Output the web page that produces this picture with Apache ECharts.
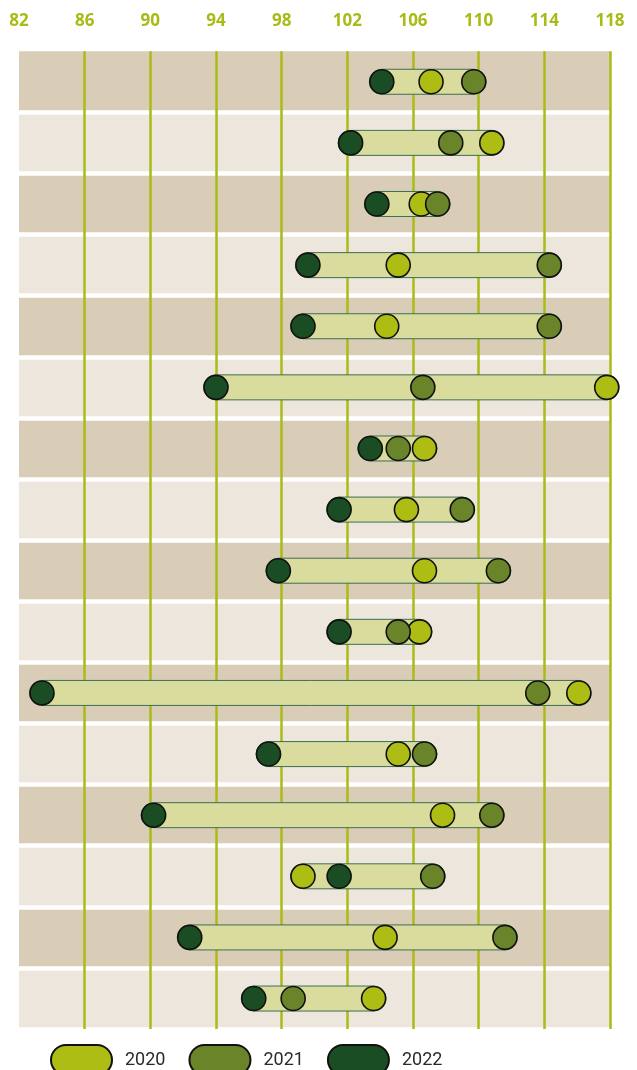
<!DOCTYPE html>
<html>
<head>
<meta charset="utf-8">
<script src="https://cdn.jsdelivr.net/npm/echarts@6/dist/echarts.min.js"></script>
<style>
    html, body { margin: 0; padding: 0; background: #fff; }
    #chart { width: 637px; height: 1070px; }
</style>
</head>
<body>
<div id="chart"></div>
<script>
// rows, top to bottom (no labels shown on the chart)
var rows = ['1', '2', '3', '4', '5', '6', '7', '8', '9', '10', '11', '12', '13', '14', '15', '16'];

var years = ['2020', '2021', '2022'];

var v2020 = [107.1, 110.8, 106.5, 105.1, 104.4, 117.8, 106.7, 105.6, 106.7, 106.4, 116.1, 105.1, 107.8, 99.3, 104.3, 103.6];
var v2021 = [109.7, 108.3, 107.5, 114.3, 114.3, 106.6, 105.1, 109.0, 111.2, 105.1, 113.6, 106.7, 110.8, 107.2, 111.6, 98.7];
var v2022 = [104.1, 102.2, 103.8, 99.6, 99.3, 94.0, 103.4, 101.5, 97.8, 101.5, 83.4, 97.2, 90.2, 101.5, 92.4, 96.3];

var xTicks = { min: 82, max: 118, interval: 4 };

var colors = {
    y2020: '#adbd14',
    y2021: '#6a8429',
    y2022: '#1b4d24',
    bar: '#d9dc9c',
    barBorder: '#3f6e55',
    tick: '#a9bb17'
};

// min / max per row for the range bar
var ranges = rows.map(function(r, i) {
    var vals = [v2020[i], v2021[i], v2022[i]];
    return [Math.min.apply(null, vals), Math.max.apply(null, vals), i];
});

function renderRange(params, api) {
    var start = api.coord([api.value(0), api.value(2)]);
    var end = api.coord([api.value(1), api.value(2)]);
    var h = 25;
    var r = h / 2;
    return {
        type: 'rect',
        shape: {
            x: start[0] - r,
            y: start[1] - r,
            width: end[0] - start[0] + h,
            height: h,
            r: r
        },
        style: {
            fill: colors.bar,
            stroke: colors.barBorder,
            lineWidth: 1
        }
    };
}

function dots(values) {
    return values.map(function(v, i) { return [v, i]; });
}

var pill = 'path://M15,0 L46,0 A15,15 0 0 1 46,30 L15,30 A15,15 0 0 1 15,0 Z';

var chart = echarts.init(document.getElementById('chart'));

var option = {
    animation: false,
    grid: {
        left: 19,
        right: 27,
        top: 51.2,
        bottom: 40.9
    },
    xAxis: {
        type: 'value',
        position: 'top',
        min: xTicks.min,
        max: xTicks.max,
        interval: xTicks.interval,
        z: 1,
        axisLine: { show: false },
        axisTick: { show: false },
        axisLabel: {
            color: colors.tick,
            fontFamily: 'Open Sans',
            fontWeight: 'bold',
            fontSize: 17,
            margin: 22
        },
        splitLine: {
            show: true,
            showMinLine: false,
            showMaxLine: true,
            lineStyle: { color: colors.tick, width: 2.5 }
        }
    },
    yAxis: {
        type: 'category',
        data: rows,
        inverse: true,
        z: 0,
        axisLine: { show: false },
        axisTick: { show: false },
        axisLabel: { show: false },
        splitArea: {
            show: true,
            areaStyle: { color: ['#d9cdb7', '#ede6dc'] }
        },
        splitLine: {
            show: true,
            showMinLine: false,
            showMaxLine: true,
            lineStyle: { color: '#ffffff', width: 4.5 }
        }
    },
    legend: {
        data: years,
        left: 50,
        top: 1044,
        padding: 0,
        icon: pill,
        itemWidth: 61,
        itemHeight: 30,
        itemGap: 23,
        textStyle: {
            color: '#2a2a2a',
            fontFamily: 'Roboto',
            fontSize: 18,
            padding: [0, 0, 0, 8]
        }
    },
    series: [
        {
            name: 'range',
            type: 'custom',
            renderItem: renderRange,
            encode: { x: [0, 1], y: 2 },
            data: ranges,
            z: 2
        },
        {
            name: '2022',
            type: 'scatter',
            data: dots(v2022),
            symbolSize: 24,
            itemStyle: { color: colors.y2022, borderColor: '#111', borderWidth: 1.6, opacity: 1 },
            z: 3
        },
        {
            name: '2020',
            type: 'scatter',
            data: dots(v2020),
            symbolSize: 24,
            itemStyle: { color: colors.y2020, borderColor: '#111', borderWidth: 1.6, opacity: 1 },
            z: 3
        },
        {
            name: '2021',
            type: 'scatter',
            data: dots(v2021),
            symbolSize: 24,
            itemStyle: { color: colors.y2021, borderColor: '#111', borderWidth: 1.6, opacity: 1 },
            z: 3
        }
    ]
};

chart.setOption(option);
</script>
</body>
</html>
